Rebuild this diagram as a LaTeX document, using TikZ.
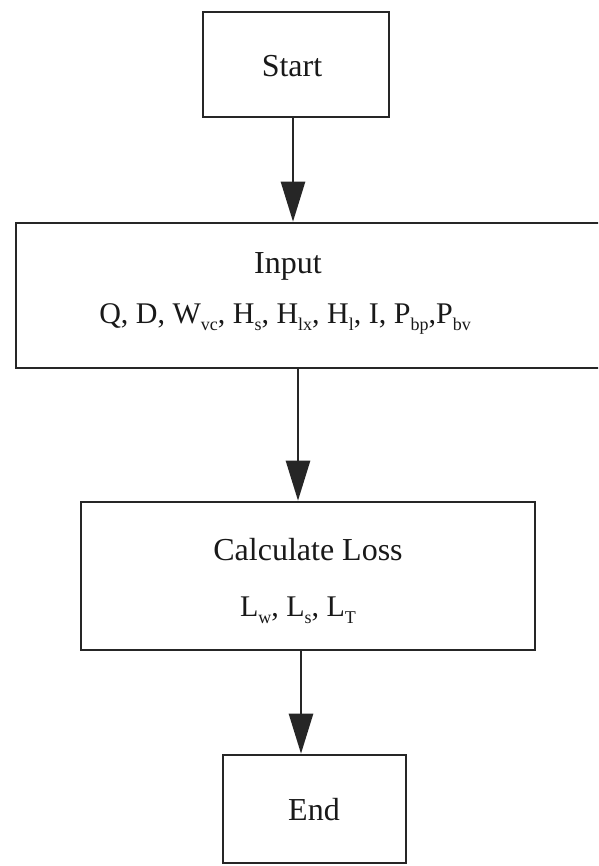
\documentclass[tikz,border=0pt]{standalone}
\usepackage{fontspec}
\setmainfont{Liberation Serif}
\usetikzlibrary{arrows.meta}
\newcommand{\sbs}[1]{\raisebox{-0.5ex}{\fontsize{18}{19}\selectfont #1}}
\begin{document}
\begin{tikzpicture}[x=1pt,y=-1pt,
  boxst/.style={draw=black!85, line width=2.6pt, inner sep=0pt},
  lbl/.style={font=\fontsize{32}{34}\selectfont, inner sep=0pt, text=black!90},
  lblv/.style={font=\fontsize{30}{32}\selectfont, inner sep=0pt, text=black!90},
  flow/.style={draw=black!85, line width=2.6pt, -{Triangle[length=40pt,width=24pt]}}]
\clip (0,0) rectangle (598,866);
\fill[white] (0,0) rectangle (598,866);
% boxes
\node[boxst, minimum width=186pt, minimum height=105pt] (start) at (296,64.5) {};
\node[boxst, minimum width=586pt, minimum height=145pt] (input) at (309,295.5) {};
\node[boxst, minimum width=454pt, minimum height=148pt] (calc) at (308,576) {};
\node[boxst, minimum width=183pt, minimum height=108pt] (end) at (314.5,809) {};
% labels
\node[lbl] (tstart) at (292,66) {Start};
\node[lbl] (tinput) at (288,266) {Input};
\node[lblv] (tvars) at (285,319) {Q, D, W\sbs{vc}, H\sbs{s}, H\sbs{lx}, H\sbs{l}, I, P\sbs{bp},P\sbs{bv}};
\node[lbl] (tcalc) at (308,550) {Calculate Loss};
\node[lblv] (tloss) at (298,610) {L\sbs{w}, L\sbs{s}, L\sbs{T}};
\node[lbl] (tend) at (314,810) {End};
% connectors
\coordinate (a1) at (293,0);
\coordinate (a2) at (298,0);
\coordinate (a3) at (301,0);
\draw[flow] (a1 |- start.south) -- (a1 |- input.north);
\draw[flow] (a2 |- input.south) -- (a2 |- calc.north);
\draw[flow] (a3 |- calc.south) -- (a3 |- end.north);
\end{tikzpicture}
\end{document}
